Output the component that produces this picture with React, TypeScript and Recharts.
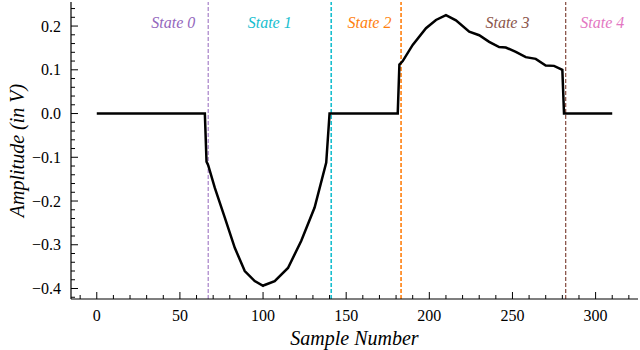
import { Line, LineChart, ReferenceDot, ReferenceLine, XAxis, YAxis, Label } from 'recharts';

const FONT = '"Liberation Serif", "DejaVu Serif", serif';

// trace
const sampleNumber = [
  0, 65, 66, 67, 71, 77, 83, 89, 95, 100, 101, 107, 115, 123, 131, 138, 140,
  181, 182, 184, 190, 198, 204, 210, 216, 224, 230, 236, 242, 246, 252, 258, 264, 270, 275, 280, 281, 310,
];
const amplitude = [
  0, 0, -0.11, -0.118, -0.17, -0.238, -0.307, -0.36, -0.383, -0.394, -0.392, -0.383, -0.353, -0.291, -0.215, -0.112, 0,
  0, 0.112, 0.12, 0.157, 0.195, 0.214, 0.225, 0.213, 0.187, 0.179, 0.164, 0.152, 0.151, 0.141, 0.129, 0.125, 0.11, 0.109, 0.1, 0, 0,
];

// state boundaries and labels
const boundaries = [67, 141, 183, 282];
const boundaryColors = ['#9467bd', '#17becf', '#ff7f0e', '#8c564b'];
const boundaryWidths = [1, 1.6, 1.6, 1.3];
const stateNames = ['State 0', 'State 1', 'State 2', 'State 3', 'State 4'];
const stateLabelX = [46, 104, 164, 247, 304];
const stateColors = ['#9467bd', '#17becf', '#ff7f0e', '#8c564b', '#e377c2'];
const stateLabelY = 0.208;

const xTicks = [
  -10, 0, 10, 20, 30, 40, 50, 60, 70, 80, 90, 100, 110, 120, 130, 140, 150, 160,
  170, 180, 190, 200, 210, 220, 230, 240, 250, 260, 270, 280, 290, 300, 310, 320,
];
const yTicks = [
  -0.42, -0.4, -0.38, -0.36, -0.34, -0.32, -0.3, -0.28, -0.26, -0.24, -0.22, -0.2,
  -0.18, -0.16, -0.14, -0.12, -0.1, -0.08, -0.06, -0.04, -0.02, 0, 0.02, 0.04, 0.06,
  0.08, 0.1, 0.12, 0.14, 0.16, 0.18, 0.2, 0.22, 0.24,
];

const X_DOMAIN: [number, number] = [-15.5, 325.5];
const Y_DOMAIN: [number, number] = [-0.424, 0.255];

const data = sampleNumber.map((x, i) => ({ x, y: amplitude[i] }));

const isMajor = (v: number, step: number) => Math.abs(v / step - Math.round(v / step)) < 1e-6;
const fmtY = (v: number) => (Math.abs(v) < 1e-9 ? '0.0' : v.toFixed(1).replace('-', '\u2212'));

const BottomTick = (props: any) => {
  const { x, y, payload } = props;
  const major = isMajor(payload.value, 50);
  return (
    <g>
      <line x1={x} x2={x} y1={y} y2={y - (major ? 7 : 4)} stroke="#000" strokeWidth={1} />
      {major && (
        <text x={x} y={y + 21.5} textAnchor="middle" fontSize={16} fontFamily={FONT} fill="#000">
          {payload.value}
        </text>
      )}
    </g>
  );
};

const TopTick = (props: any) => {
  const { x, y, payload } = props;
  const major = isMajor(payload.value, 50);
  return <line x1={x} x2={x} y1={y} y2={y + (major ? 7 : 4)} stroke="#000" strokeWidth={1} />;
};

const LeftTick = (props: any) => {
  const { x, y, payload } = props;
  const major = isMajor(payload.value, 0.1);
  return (
    <g>
      <line x1={x} x2={x + (major ? 7 : 4)} y1={y} y2={y} stroke="#000" strokeWidth={1} />
      {major && (
        <text x={x - 10} y={y} dy="0.35em" textAnchor="end" fontSize={16} fontFamily={FONT} fill="#000">
          {fmtY(payload.value)}
        </text>
      )}
    </g>
  );
};

const RightTick = (props: any) => {
  const { x, y, payload } = props;
  const major = isMajor(payload.value, 0.1);
  return <line x1={x} x2={x - (major ? 7 : 4)} y1={y} y2={y} stroke="#000" strokeWidth={1} />;
};

export default function App() {
  return (
    <div style={{ position: 'absolute', left: 0, top: 0, width: 640, height: 350, background: '#fff' }}>
      <LineChart width={640} height={350} data={data} margin={{ top: 2, right: 2, bottom: 0, left: 0 }}>
        <XAxis
          dataKey="x"
          type="number"
          domain={X_DOMAIN}
          allowDataOverflow
          ticks={xTicks}
          interval={0}
          height={51}
          tickSize={0}
          tickMargin={0}
          tickLine={false}
          tick={<BottomTick />}
          axisLine={{ stroke: '#000', strokeWidth: 1.2 }}
        >
          <Label
            content={({ viewBox }: any) => (
              <text
                x={viewBox.x + viewBox.width / 2}
                y={viewBox.y + 46}
                textAnchor="middle"
                fontSize={20}
                fontStyle="italic"
                fontFamily={FONT}
                fill="#000"
              >
                Sample Number
              </text>
            )}
          />
        </XAxis>
        <XAxis
          xAxisId="top"
          orientation="top"
          dataKey="x"
          type="number"
          domain={X_DOMAIN}
          allowDataOverflow
          ticks={xTicks}
          interval={0}
          height={0}
          tickSize={0}
          tickMargin={0}
          tickLine={false}
          tick={<TopTick />}
          axisLine={{ stroke: '#000', strokeWidth: 1.2 }}
        />
        <YAxis
          type="number"
          domain={Y_DOMAIN}
          allowDataOverflow
          ticks={yTicks}
          interval={0}
          width={71}
          tickSize={0}
          tickMargin={0}
          tickLine={false}
          tick={<LeftTick />}
          axisLine={{ stroke: '#000', strokeWidth: 1.2 }}
        >
          <Label
            content={({ viewBox }: any) => {
              const cx = viewBox.x + 17;
              const cy = viewBox.y + viewBox.height / 2;
              return (
                <text
                  x={cx}
                  y={cy}
                  transform={`rotate(-90, ${cx}, ${cy})`}
                  textAnchor="middle"
                  dominantBaseline="central"
                  fontSize={20}
                  fontStyle="italic"
                  fontFamily={FONT}
                  fill="#000"
                >
                  Amplitude (in V)
                </text>
              );
            }}
          />
        </YAxis>
        <YAxis
          yAxisId="right"
          orientation="right"
          type="number"
          domain={Y_DOMAIN}
          allowDataOverflow
          ticks={yTicks}
          interval={0}
          width={0}
          tickSize={0}
          tickMargin={0}
          tickLine={false}
          tick={<RightTick />}
          axisLine={{ stroke: '#000', strokeWidth: 1.2 }}
        />
        {boundaries.map((b, i) => (
          <ReferenceLine
            key={b}
            x={b}
            stroke={boundaryColors[i]}
            strokeWidth={boundaryWidths[i]}
            strokeDasharray="4 2"
          />
        ))}
        {stateNames.map((name, i) => (
          <ReferenceDot
            key={name}
            x={stateLabelX[i]}
            y={stateLabelY}
            r={1}
            fill="none"
            stroke="none"
            label={{
              value: name,
              position: 'center',
              fill: stateColors[i],
              fontSize: 16,
              fontStyle: 'italic',
              fontFamily: FONT,
            }}
          />
        ))}
        <Line
          type="linear"
          dataKey="y"
          stroke="#000"
          strokeWidth={2.5}
          dot={false}
          activeDot={false}
          isAnimationActive={false}
        />
      </LineChart>
    </div>
  );
}
